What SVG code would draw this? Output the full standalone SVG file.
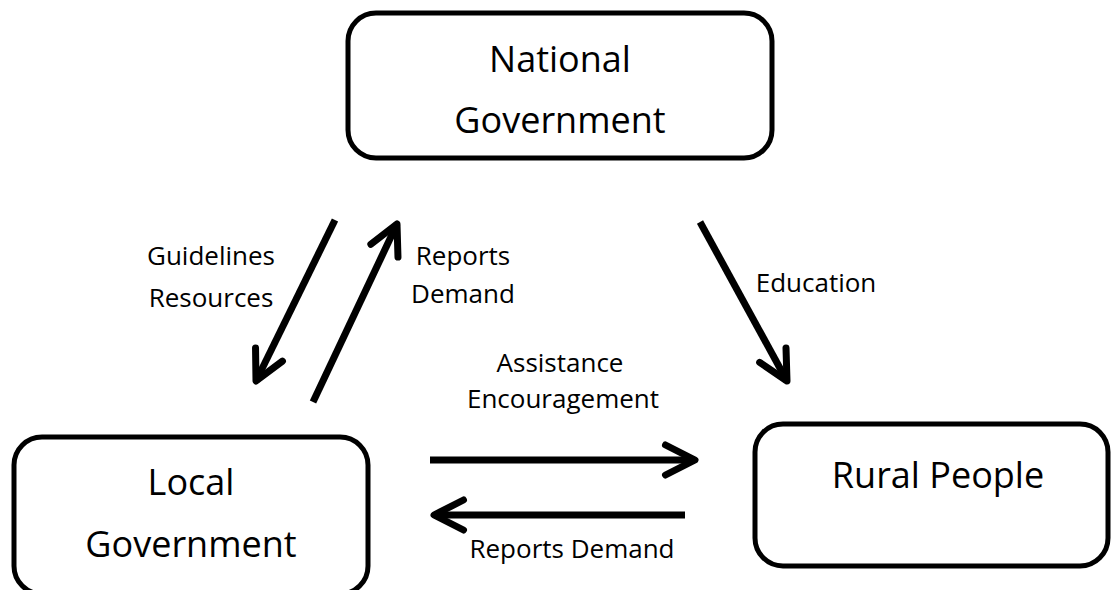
<svg xmlns="http://www.w3.org/2000/svg" width="1112" height="590" viewBox="0 0 1112 590">
  <defs>
    <marker id="chev" markerUnits="userSpaceOnUse" markerWidth="80" markerHeight="80" viewBox="-40 -40 80 80" refX="0" refY="0" orient="auto" overflow="visible">
      <path d="M -29.5,-15 L 0,0 L -29.5,15" fill="none" stroke="#000" stroke-width="7" stroke-linecap="round" stroke-linejoin="round"/>
    </marker>
  </defs>
  <style>
    .box { fill: #fff; stroke: #000; stroke-width: 5; }
    .big { font-family: "Open Sans", "Noto Sans", sans-serif; font-size: 36px; fill: #000; text-anchor: middle; }
    .lbl { font-family: "Open Sans", "Noto Sans", sans-serif; font-size: 26px; fill: #000; text-anchor: middle; }
    .conn { stroke: #000; stroke-width: 7; fill: none; stroke-linecap: butt; marker-end: url(#chev); }
  </style>
  <rect width="1112" height="590" fill="#fff"/>

  <g id="national">
    <rect class="box" x="348" y="13" width="424" height="145" rx="28" ry="28"/>
    <text class="big" x="560" y="72">National</text>
    <text class="big" x="560" y="133">Government</text>
  </g>

  <g id="local">
    <rect class="box" x="14" y="437" width="354" height="157" rx="28" ry="28"/>
    <text class="big" x="191" y="495">Local</text>
    <text class="big" x="191" y="557">Government</text>
  </g>

  <g id="rural">
    <rect class="box" x="755" y="424" width="353" height="142" rx="28" ry="28"/>
    <text class="big" x="938" y="488">Rural People</text>
  </g>

  <g id="connectors">
    <line class="conn" x1="335" y1="220" x2="256" y2="381"/>
    <line class="conn" x1="313" y1="402" x2="397" y2="224"/>
    <line class="conn" x1="700" y1="222" x2="787" y2="381"/>
    <line class="conn" x1="430" y1="460" x2="695" y2="460"/>
    <line class="conn" x1="685" y1="515" x2="434" y2="515"/>
  </g>

  <g id="labels">
    <text class="lbl" x="211" y="265">Guidelines</text>
    <text class="lbl" x="211" y="307">Resources</text>
    <text class="lbl" x="463" y="265">Reports</text>
    <text class="lbl" x="463" y="303">Demand</text>
    <text class="lbl" x="816" y="292">Education</text>
    <text class="lbl" x="560" y="372">Assistance</text>
    <text class="lbl" x="563" y="408">Encouragement</text>
    <text class="lbl" x="572" y="558">Reports Demand</text>
  </g>
</svg>
